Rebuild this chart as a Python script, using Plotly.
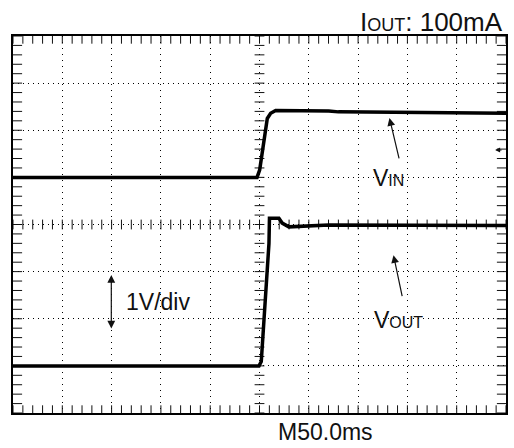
import numpy as np
import plotly.graph_objects as go

# time in ms (50 ms/div), amplitude in divisions (1 V/div), centre = 0
vin_t = [0, 247.5, 250.2, 252.2, 254.5, 256.3, 257.9, 261.3, 266.4, 320.2, 330.0, 500]
vin_v = [1.0, 1.0, 1.16, 1.44, 1.79, 2.08, 2.25, 2.36, 2.42, 2.41, 2.39, 2.36]

vout_t = [0, 248.5, 249.5, 251.8, 252.8, 254.5, 256.3, 257.9, 258.9, 259.6, 260.1, 269.7, 273.0, 279.8, 320.2, 500]
vout_v = [-3.0, -3.0, -3.0, -2.91, -2.59, -2.17, -1.60, -1.11, -0.90, -0.40, 0.13, 0.13, 0.03, -0.05, -0.01, -0.02]

x_range = [0, 500]
y_range = [-4, 4]
minor_x = np.arange(0, 500.01, 10)
minor_y = np.arange(-4, 4.001, 0.2)

FONT = "Liberation Sans"
INK = "#111111"

fig = go.Figure()


def tick_trace(xs, ys, symbol, size):
    return go.Scatter(x=xs, y=ys, mode="markers", cliponaxis=True, hoverinfo="skip",
                      marker=dict(symbol=symbol, size=size, line=dict(width=1, color=INK)))


# centre cross-hair ticks
fig.add_trace(tick_trace(minor_x, [0] * len(minor_x), "line-ns", 7))
fig.add_trace(tick_trace([250] * len(minor_y), minor_y, "line-ew", 7))
# frame ticks (graticule, half of each marker is clipped by the frame)
fig.add_trace(tick_trace(minor_x, [4] * len(minor_x), "line-ns", 11))
fig.add_trace(tick_trace(minor_x, [-4] * len(minor_x), "line-ns", 11))
fig.add_trace(tick_trace([0] * len(minor_y), minor_y, "line-ew", 13))
fig.add_trace(tick_trace([500] * len(minor_y), minor_y, "line-ew", 13))

fig.add_trace(go.Scatter(x=vin_t, y=vin_v, mode="lines", line=dict(color="#000", width=3.5),
                         name="VIN"))
fig.add_trace(go.Scatter(x=vout_t, y=vout_v, mode="lines", line=dict(color="#000", width=3.5),
                         name="VOUT"))

ann = []
# labels
ann.append(dict(x=381.3, y=0.98, xref="x", yref="y", showarrow=False,
                text="V<span style='font-size:16px'>IN</span>",
                font=dict(family=FONT, size=23, color=INK)))
ann.append(dict(x=390.9, y=-2.03, xref="x", yref="y", showarrow=False,
                text="V<span style='font-size:16px'>OUT</span>",
                font=dict(family=FONT, size=23, color=INK)))
ann.append(dict(x=112.2, y=-1.64, xref="x", yref="y", showarrow=False, xanchor="left",
                text="1V/div", font=dict(family=FONT, size=23, color=INK)))
# arrows
ann.append(dict(x=381.8, y=2.26, ax=391.9, ay=1.37, xref="x", yref="y", axref="x", ayref="y",
                text="", showarrow=True, arrowhead=2, arrowsize=1.3, arrowwidth=1.2, arrowcolor=INK))
ann.append(dict(x=385.9, y=-0.65, ax=395.0, ay=-1.55, xref="x", yref="y", axref="x", ayref="y",
                text="", showarrow=True, arrowhead=2, arrowsize=1.3, arrowwidth=1.2, arrowcolor=INK))
ann.append(dict(x=99.7, y=-1.07, ax=99.7, ay=-2.24, xref="x", yref="y", axref="x", ayref="y",
                text="", showarrow=True, arrowhead=2, startarrowhead=2, arrowside="end+start",
                arrowsize=1.3, arrowwidth=1.2, arrowcolor=INK))
# trigger marker
ann.append(dict(x=489.0, y=1.58, ax=497.0, ay=1.58, xref="x", yref="y", axref="x", ayref="y",
                text="", showarrow=True, arrowhead=2, arrowsize=1, arrowwidth=1, arrowcolor=INK))
# header / footer
ann.append(dict(x=1.0, y=1.0, xref="paper", yref="paper", yanchor="bottom", xanchor="right",
                yshift=-3, xshift=-1, showarrow=False,
                text="I<span style='font-size:18px'>OUT</span>: 100mA",
                font=dict(family=FONT, size=26, color=INK)))
ann.append(dict(x=0.634, y=0.0, xref="paper", yref="paper", yanchor="top", xanchor="center",
                yshift=-4, showarrow=False, text="M50.0ms",
                font=dict(family=FONT, size=23, color=INK)))

axis_common = dict(showticklabels=False, showline=True, linecolor="#000", linewidth=2,
                   mirror=True, ticks="",
                   showgrid=True, gridcolor="#000", gridwidth=1, zeroline=False)

fig.update_layout(
    width=514, height=448,
    margin=dict(l=13, r=6, t=36, b=35),
    paper_bgcolor="white", plot_bgcolor="white",
    showlegend=False,
    annotations=ann,
    xaxis=dict(range=x_range, tick0=0, dtick=50, griddash="1px,5px", **axis_common),
    yaxis=dict(range=y_range, tick0=0, dtick=1, griddash="1px,4px", **axis_common),
)

fig.write_html("out.html", config={"displayModeBar": False},
               post_script="document.body.style.margin='0';document.body.style.overflow='hidden';")
